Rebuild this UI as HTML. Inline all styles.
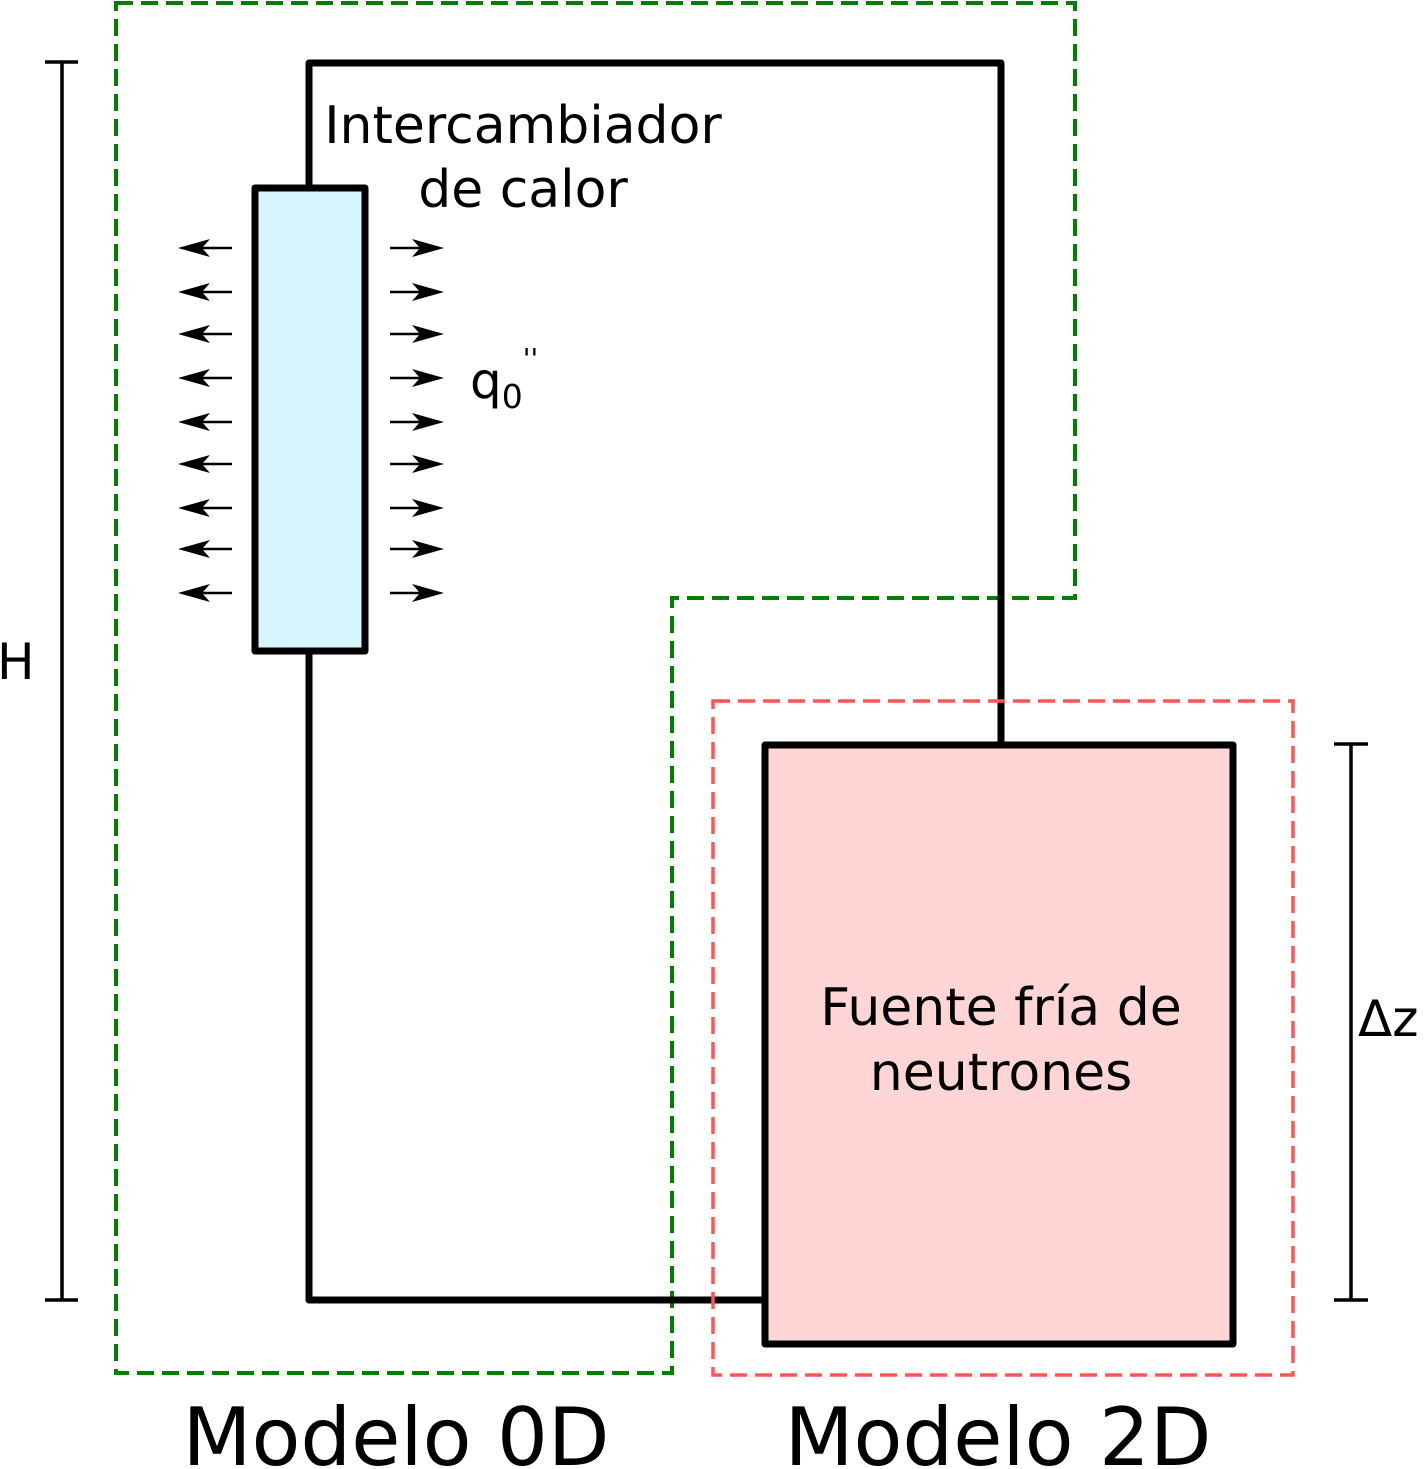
<!DOCTYPE html>
<html><head><meta charset="utf-8"><style>
html,body{margin:0;padding:0;background:#fff;}
svg{display:block;}
text{font-family:"DejaVu Sans","Liberation Sans",sans-serif;fill:#000;}
</style></head><body>
<svg width="1424" height="1469" viewBox="0 0 1424 1469" xmlns="http://www.w3.org/2000/svg">
<defs>
<g id="pair">
<path d="M390,0 H430 M232,0 H192" stroke="#000" stroke-width="2.5"/>
<path d="M412,-9 L444,0 L412,9 L420,0 Z" fill="#000"/>
<path d="M210,-9 L178,0 L210,9 L202,0 Z" fill="#000"/>
</g>
</defs>
<path d="M116,3 H1075 V598 H672 V1373 H116 Z" fill="none" stroke="#008000" stroke-width="4" stroke-dasharray="17,8"/>
<path d="M309,188 V63 H1001 V745 M309,651 V1300 H765" fill="none" stroke="#000" stroke-width="7" stroke-linejoin="round"/>
<rect x="765" y="745" width="468" height="599" fill="#ffd5d5" stroke="#000" stroke-width="7" stroke-linejoin="round"/>
<rect x="713" y="701" width="580" height="674" fill="none" stroke="#ff5555" stroke-width="3.5" stroke-dasharray="17,8"/>
<rect x="255" y="188" width="110" height="463" fill="#d5f6ff" stroke="#000" stroke-width="7" stroke-linejoin="round"/>
<use href="#pair" y="248"/><use href="#pair" y="292"/><use href="#pair" y="334"/>
<use href="#pair" y="378"/><use href="#pair" y="422"/><use href="#pair" y="464"/>
<use href="#pair" y="508"/><use href="#pair" y="549"/><use href="#pair" y="593"/>
<g stroke="#000" stroke-width="3.5">
<line x1="62" y1="62" x2="62" y2="1300"/><line x1="45" y1="62" x2="78" y2="62"/><line x1="45" y1="1300" x2="78" y2="1300"/>
<line x1="1351" y1="744" x2="1351" y2="1300"/><line x1="1334" y1="744" x2="1368" y2="744"/><line x1="1334" y1="1300" x2="1368" y2="1300"/>
</g>
<text x="523" y="143" font-size="52" text-anchor="middle">Intercambiador</text>
<text x="523" y="207" font-size="52" text-anchor="middle">de calor</text>
<text x="470" y="398" font-size="50">q<tspan font-size="33" dy="10">0</tspan><tspan font-size="28" dy="-40">''</tspan></text>
<text x="1001" y="1025" font-size="52" text-anchor="middle">Fuente fría de</text>
<text x="1001" y="1090" font-size="52" text-anchor="middle">neutrones</text>
<text x="-3" y="679" font-size="50">H</text>
<text x="1358" y="1036" font-size="50">Δz</text>
<text x="396" y="1465" font-size="80" text-anchor="middle">Modelo 0D</text>
<text x="998" y="1465" font-size="80" text-anchor="middle">Modelo 2D</text>
</svg>
</body></html>
